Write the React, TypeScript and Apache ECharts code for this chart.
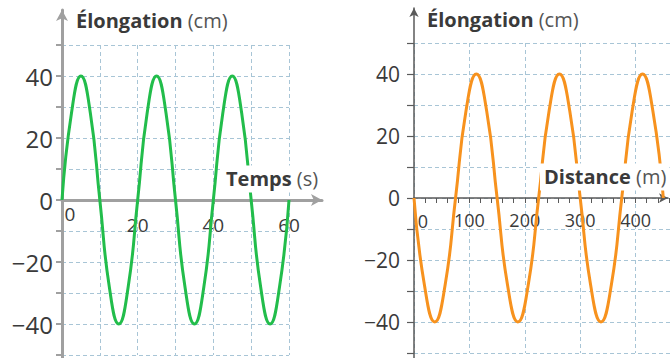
import React, { useEffect, useRef } from 'react';
import * as echarts from 'echarts';

// Left chart: elongation (cm) versus time (s)
const timeS = [0, 2.5, 5, 7.5, 10, 12.5, 15, 17.5, 20, 22.5, 25, 27.5, 30, 32.5, 35, 37.5, 40, 42.5, 45, 47.5, 50, 52.5, 55, 57.5, 60];
const elongationT = [0, 28, 40, 28, 0, -28, -40, -28, 0, 28, 40, 28, 0, -28, -40, -28, 0, 28, 40, 28, 0, -28, -40, -28, 0];

// Right chart: elongation (cm) versus distance (m)
const distanceM = [0, 18.75, 37.5, 56.25, 75, 93.75, 112.5, 131.25, 150, 168.75, 187.5, 206.25, 225, 243.75, 262.5, 281.25, 300, 318.75, 337.5, 356.25, 375, 393.75, 412.5, 431.25, 450];
const elongationD = [0, -28, -40, -28, 0, 28, 40, 28, 0, -28, -40, -28, 0, 28, 40, 28, 0, -28, -40, -28, 0, 28, 40, 28, 0];

// Tick labels
const yLabels = [-40, -20, 0, 20, 40];
const timeLabels = [20, 40, 60];
const distLabels = [100, 200, 300, 400];

const TEXT = '#3a3a3a';
const GRID = '#a8c5d6';
const FONT = 'Open Sans';
const GREEN = '#22bd4b';
const ORANGE = '#f7921e';
const LEFT_AXIS = '#a0a0a0';
const RIGHT_AXIS = '#5a5a5a';

const fmt = (v: number) => (v < 0 ? '\u2212' + Math.abs(v) : String(v));

export default function App() {
  const ref = useRef<HTMLDivElement>(null);
  useEffect(() => {
    const chart = echarts.init(ref.current!, null, { renderer: 'svg' });
    const split = { show: true, lineStyle: { color: GRID, type: [4, 3], width: 1 } };
    const hiddenLine = { show: false, onZero: false };
    const richFor = (size: number) => ({
      b: { fontFamily: FONT, fontWeight: 'bold', fontSize: size, fill: '#3a3a3a', color: '#3a3a3a' },
      r: { fontFamily: FONT, fontSize: size, fill: '#555', color: '#555' },
    });
    const mkText = (x: number, y: number, text: string, bg: boolean, size: number) => ({
      type: 'text',
      x,
      y,
      z: 50,
      style: {
        text,
        rich: richFor(size),
        verticalAlign: 'middle',
        backgroundColor: bg ? '#fff' : undefined,
        padding: bg ? [3, 3, 4, 4] : 0,
      },
    });
    chart.setOption({
      animation: false,
      textStyle: { fontFamily: FONT },
      grid: [
        { left: 62, top: 45, width: 227, height: 310, outerBoundsMode: 'none', containLabel: false },
        { left: 62, top: 10, width: 260, height: 348, outerBoundsMode: 'none', containLabel: false },
        { left: 414, top: 43, width: 277, height: 310, outerBoundsMode: 'none', containLabel: false },
        { left: 414, top: 8, width: 254, height: 350, outerBoundsMode: 'none', containLabel: false },
      ],
      xAxis: [
        {
          gridIndex: 0, type: 'value', min: 0, max: 60, interval: 10, position: 'bottom', offset: -155,
          axisLine: hiddenLine,
          axisTick: { show: true, length: 4, lineStyle: { color: LEFT_AXIS, width: 2 } },
          splitLine: split,
          axisLabel: {
            margin: 15, fontSize: 19, color: TEXT, fontFamily: FONT,
            formatter: (v: number) => (timeLabels.includes(v) ? fmt(v) : ''),
          },
        },
        {
          gridIndex: 1, type: 'value', min: 0, max: 1, position: 'bottom', offset: -158,
          axisLine: { show: true, onZero: false, symbol: ['none', 'arrow'], symbolSize: [9, 11], lineStyle: { color: LEFT_AXIS, width: 3 } },
          axisTick: { show: false }, axisLabel: { show: false }, splitLine: { show: false },
        },
        {
          gridIndex: 2, type: 'value', min: 0, max: 500, interval: 100, position: 'bottom', offset: -155,
          axisLine: hiddenLine,
          axisTick: { show: true, length: 5, lineStyle: { color: RIGHT_AXIS, width: 1 } },
          minorTick: { show: true, splitNumber: 5, length: 5, lineStyle: { color: RIGHT_AXIS, width: 1 } },
          splitLine: split,
          axisLabel: {
            margin: 13, fontSize: 18, color: TEXT, fontFamily: FONT,
            formatter: (v: number) => (distLabels.includes(v) ? fmt(v) : ''),
          },
        },
        {
          gridIndex: 3, type: 'value', min: 0, max: 1, position: 'bottom', offset: -160,
          axisLine: { show: true, onZero: false, symbol: ['none', 'arrow'], symbolSize: [7, 9], lineStyle: { color: RIGHT_AXIS, width: 1.5 } },
          axisTick: { show: false }, axisLabel: { show: false }, splitLine: { show: false },
        },
      ],
      yAxis: [
        {
          gridIndex: 0, type: 'value', min: -50, max: 50, interval: 10, position: 'left',
          axisLine: hiddenLine,
          axisTick: { show: true, length: 6, lineStyle: { color: LEFT_AXIS, width: 2 } },
          splitLine: split,
          axisLabel: {
            margin: 9, fontSize: 24, color: TEXT, fontFamily: FONT,
            formatter: (v: number) => (yLabels.includes(v) ? fmt(v) : ''),
          },
        },
        {
          gridIndex: 1, type: 'value', min: 0, max: 1, position: 'left',
          axisLine: { show: true, onZero: false, symbol: ['none', 'arrow'], symbolSize: [9, 11], lineStyle: { color: LEFT_AXIS, width: 3 } },
          axisTick: { show: false }, axisLabel: { show: false }, splitLine: { show: false },
        },
        {
          gridIndex: 2, type: 'value', min: -50, max: 50, interval: 10, position: 'left',
          axisLine: hiddenLine,
          axisTick: { show: true, length: 7, lineStyle: { color: RIGHT_AXIS, width: 1.2 } },
          splitLine: split,
          axisLabel: {
            margin: 14, fontSize: 21, color: TEXT, fontFamily: FONT,
            formatter: (v: number) => (yLabels.includes(v) ? fmt(v) : ''),
          },
        },
        {
          gridIndex: 3, type: 'value', min: 0, max: 1, position: 'left',
          axisLine: { show: true, onZero: false, symbol: ['none', 'arrow'], symbolSize: [7, 9], lineStyle: { color: RIGHT_AXIS, width: 1.5 } },
          axisTick: { show: false }, axisLabel: { show: false }, splitLine: { show: false },
        },
      ],
      series: [
        {
          type: 'line', xAxisIndex: 0, yAxisIndex: 0, smooth: 0.5, showSymbol: false,
          lineStyle: { color: GREEN, width: 3 },
          data: timeS.map((t, i) => [t, elongationT[i]]),
        },
        {
          type: 'line', xAxisIndex: 2, yAxisIndex: 2, smooth: 0.5, showSymbol: false,
          lineStyle: { color: ORANGE, width: 3 },
          data: distanceM.map((d, i) => [d, elongationD[i]]),
        },
      ],
      graphic: [
        mkText(76, 20, '{b|Élongation }{r|(cm)}', false, 20),
        mkText(427, 19, '{b|Élongation }{r|(cm)}', false, 20),
        mkText(222, 179, '{b|Temps }{r|(s)}', true, 20),
        mkText(540, 177, '{b|Distance }{r|(m)}', true, 20),
        { type: 'text', x: 70, y: 214, z: 50, style: { text: '0', fontFamily: FONT, fontSize: 19, fill: TEXT, align: 'center', verticalAlign: 'middle' } },
        { type: 'text', x: 423, y: 221, z: 50, style: { text: '0', fontFamily: FONT, fontSize: 18, fill: TEXT, align: 'center', verticalAlign: 'middle' } },
      ],
    });
    return () => chart.dispose();
  }, []);
  return <div ref={ref} style={{ position: 'absolute', left: 0, top: 0, width: 672, height: 358, background: '#fff' }} />;
}
